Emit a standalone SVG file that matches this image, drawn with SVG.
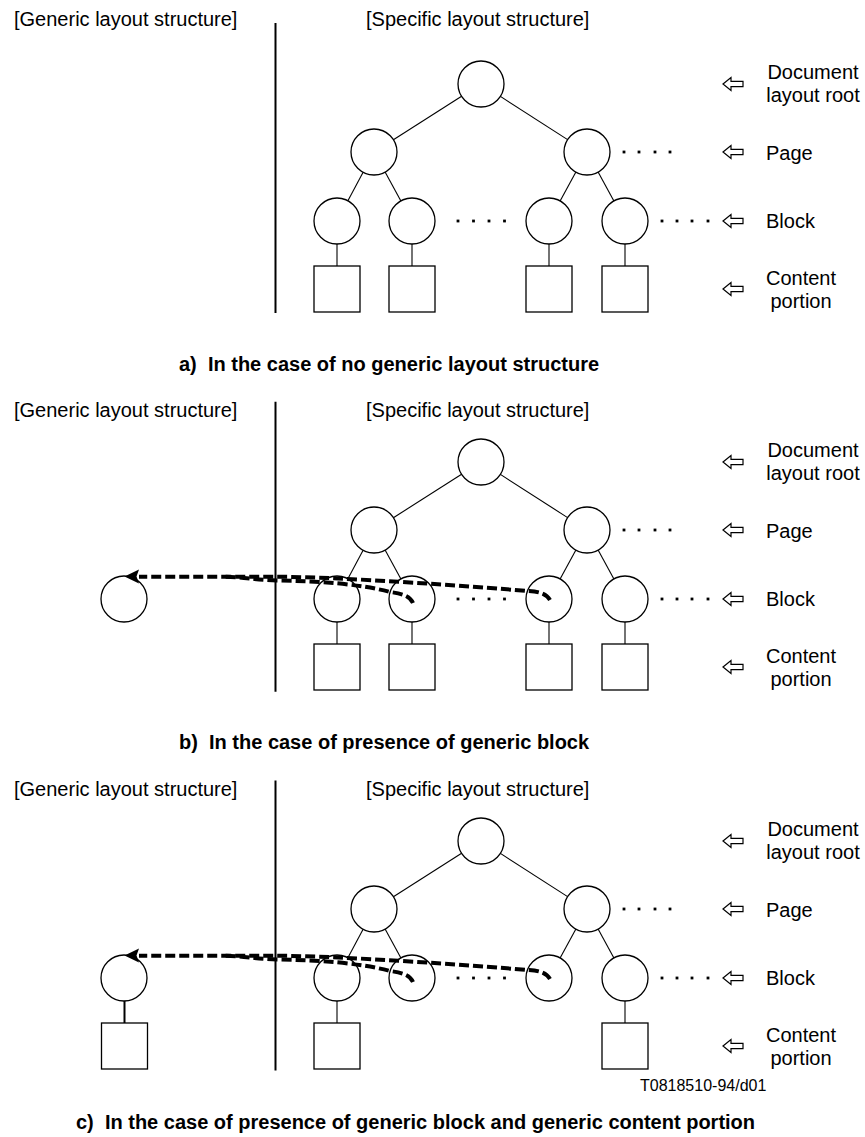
<svg xmlns="http://www.w3.org/2000/svg" xmlns:xlink="http://www.w3.org/1999/xlink" width="865" height="1137" viewBox="0 0 865 1137">
<style>
.n{fill:#fff;stroke:#000;stroke-width:1.3}
.e{stroke:#000;stroke-width:1.1;fill:none}
.vl{stroke:#000;stroke-width:2}
.dash{stroke:#000;stroke-width:4;stroke-dasharray:10 4;fill:none}
.t{font-family:"Liberation Sans",Arial,sans-serif;font-size:20px;fill:#000}
.cap{font-weight:bold;white-space:pre}
.code{font-size:16px}
.ar{fill:#fff;stroke:#000;stroke-width:1.2;stroke-linejoin:miter}
</style>
<defs>
<polygon id="larr" class="ar" points="0,0 8,-6.5 8,-2.7 20,-2.7 20,2.7 8,2.7 8,6.5"/>
<rect id="dot" x="-1.4" y="-1.4" width="2.8" height="2.8" fill="#000"/>
<g id="labels">
<use xlink:href="#larr" x="723" y="84"/>
<use xlink:href="#larr" x="723" y="152"/>
<use xlink:href="#larr" x="723" y="221"/>
<use xlink:href="#larr" x="723" y="289"/>
<text class="t" x="813" y="79" text-anchor="middle">Document</text>
<text class="t" x="813" y="102" text-anchor="middle">layout root</text>
<text class="t" x="766" y="160">Page</text>
<text class="t" x="766" y="228">Block</text>
<text class="t" x="801" y="284.5" text-anchor="middle">Content</text>
<text class="t" x="801" y="307.5" text-anchor="middle">portion</text>
</g>
<g id="dots">
<use xlink:href="#dot" x="624" y="152"/><use xlink:href="#dot" x="639" y="152"/><use xlink:href="#dot" x="655" y="152"/><use xlink:href="#dot" x="670" y="152"/>
<use xlink:href="#dot" x="458" y="221"/><use xlink:href="#dot" x="473.5" y="221"/><use xlink:href="#dot" x="489" y="221"/><use xlink:href="#dot" x="504.5" y="221"/>
<use xlink:href="#dot" x="662" y="221"/><use xlink:href="#dot" x="677" y="221"/><use xlink:href="#dot" x="692" y="221"/><use xlink:href="#dot" x="708" y="221"/>
</g>
<g id="treeEdges">
<line class="e" x1="461.6" y1="96.3" x2="393.4" y2="139.7"/>
<line class="e" x1="500.4" y1="96.4" x2="567.6" y2="139.6"/>
<line class="e" x1="363.1" y1="172.3" x2="347.9" y2="200.7"/>
<line class="e" x1="385.1" y1="172.1" x2="400.9" y2="200.9"/>
<line class="e" x1="575.9" y1="172.1" x2="560.1" y2="200.9"/>
<line class="e" x1="598.1" y1="172.1" x2="613.9" y2="200.9"/>
</g>
<g id="dashArrows">
<path class="dash" d="M550,222 C546,215 538,213.5 527,213 C470,208 340,199 277,198.7 L139,198.7"/>
<path class="dash" d="M413,225 C410,218 402,215.5 390,214 C360,206 320,203 277,202.5 C255,202 245,199 225,198.7"/>
<polygon points="124.5,198.6 139,191.5 136.5,198.6 139,205.5" fill="#000"/>
</g>
</defs>

<g id="texts">
<text class="t" x="14" y="26">[Generic layout structure]</text>
<text class="t" x="366" y="26">[Specific layout structure]</text>
<text class="t cap" x="179" y="371">a)  In the case of no generic layout structure</text>
<text class="t" x="14" y="417">[Generic layout structure]</text>
<text class="t" x="366" y="417">[Specific layout structure]</text>
<text class="t cap" x="179" y="749">b)  In the case of presence of generic block</text>
<text class="t" x="14" y="796">[Generic layout structure]</text>
<text class="t" x="366" y="796">[Specific layout structure]</text>
<text class="t code" x="640" y="1091">T0818510-94/d01</text>
<text class="t cap" x="76" y="1129">c)  In the case of presence of generic block and generic content portion</text>
</g>

<g id="panel-a">
<line class="vl" x1="275.5" y1="23" x2="275.5" y2="313"/>
<use xlink:href="#labels"/>
<use xlink:href="#dots"/>
<g id="a-root"><circle class="n" cx="481" cy="84" r="23"/></g>
<g id="a-page1"><circle class="n" cx="374" cy="152" r="23"/></g>
<g id="a-page2"><circle class="n" cx="587" cy="152" r="23"/></g>
<g id="a-block1"><circle class="n" cx="337" cy="221" r="23"/></g>
<g id="a-block2"><circle class="n" cx="412" cy="221" r="23"/></g>
<g id="a-block3"><circle class="n" cx="549" cy="221" r="23"/></g>
<g id="a-block4"><circle class="n" cx="625" cy="221" r="23"/></g>
<g id="a-cp1"><rect class="n" x="314" y="266" width="46" height="46"/></g>
<g id="a-cp2"><rect class="n" x="389" y="266" width="46" height="46"/></g>
<g id="a-cp3"><rect class="n" x="526" y="266" width="46" height="46"/></g>
<g id="a-cp4"><rect class="n" x="602" y="266" width="46" height="46"/></g>
<g id="a-connectors">
<use xlink:href="#treeEdges"/>
<line class="e" x1="337" y1="244" x2="337" y2="266"/>
<line class="e" x1="412" y1="244" x2="412" y2="266"/>
<line class="e" x1="549" y1="244" x2="549" y2="266"/>
<line class="e" x1="625" y1="244" x2="625" y2="266"/>
</g>
</g>

<g id="panel-b" transform="translate(0,378)">
<line class="vl" x1="275.5" y1="23.7" x2="275.5" y2="313.7"/>
<use xlink:href="#labels"/>
<use xlink:href="#dots"/>
<g id="b-generic-block"><circle class="n" cx="124" cy="221" r="23"/></g>
<g id="b-root"><circle class="n" cx="481" cy="84" r="23"/></g>
<g id="b-page1"><circle class="n" cx="374" cy="152" r="23"/></g>
<g id="b-page2"><circle class="n" cx="587" cy="152" r="23"/></g>
<g id="b-block1"><circle class="n" cx="337" cy="221" r="23"/></g>
<g id="b-block2"><circle class="n" cx="412" cy="221" r="23"/></g>
<g id="b-block3"><circle class="n" cx="549" cy="221" r="23"/></g>
<g id="b-block4"><circle class="n" cx="625" cy="221" r="23"/></g>
<g id="b-cp1"><rect class="n" x="314" y="266" width="46" height="46"/></g>
<g id="b-cp2"><rect class="n" x="389" y="266" width="46" height="46"/></g>
<g id="b-cp3"><rect class="n" x="526" y="266" width="46" height="46"/></g>
<g id="b-cp4"><rect class="n" x="602" y="266" width="46" height="46"/></g>
<g id="b-connectors">
<use xlink:href="#treeEdges"/>
<line class="e" x1="337" y1="244" x2="337" y2="266"/>
<line class="e" x1="412" y1="244" x2="412" y2="266"/>
<line class="e" x1="549" y1="244" x2="549" y2="266"/>
<line class="e" x1="625" y1="244" x2="625" y2="266"/>
<use xlink:href="#dashArrows"/>
</g>
</g>

<g id="panel-c" transform="translate(0,757)">
<line class="vl" x1="275.5" y1="23.5" x2="275.5" y2="313.5"/>
<use xlink:href="#labels"/>
<use xlink:href="#dots"/>
<g id="c-generic-block"><circle class="n" cx="124" cy="221" r="23"/></g>
<g id="c-generic-cp"><rect class="n" x="101.5" y="266" width="46" height="46"/></g>
<g id="c-root"><circle class="n" cx="481" cy="84" r="23"/></g>
<g id="c-page1"><circle class="n" cx="374" cy="152" r="23"/></g>
<g id="c-page2"><circle class="n" cx="587" cy="152" r="23"/></g>
<g id="c-block1"><circle class="n" cx="337" cy="221" r="23"/></g>
<g id="c-block2"><circle class="n" cx="412" cy="221" r="23"/></g>
<g id="c-block3"><circle class="n" cx="549" cy="221" r="23"/></g>
<g id="c-block4"><circle class="n" cx="625" cy="221" r="23"/></g>
<g id="c-cp1"><rect class="n" x="314" y="266" width="46" height="46"/></g>
<g id="c-cp4"><rect class="n" x="602" y="266" width="46" height="46"/></g>
<g id="c-connectors">
<use xlink:href="#treeEdges"/>
<line class="vl" x1="124.5" y1="244" x2="124.5" y2="266"/>
<line class="e" x1="337" y1="244" x2="337" y2="266"/>
<line class="e" x1="625" y1="244" x2="625" y2="266"/>
<use xlink:href="#dashArrows"/>
</g>
</g>
</svg>
